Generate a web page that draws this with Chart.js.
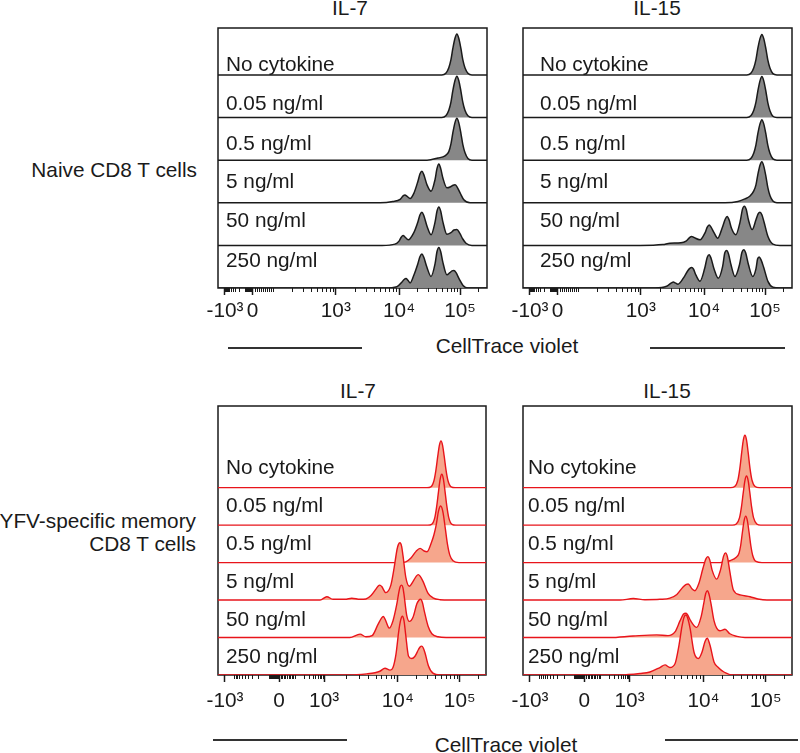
<!DOCTYPE html>
<html lang="en">
<head>
<meta charset="utf-8">
<title>CellTrace violet</title>
<script src="https://cdn.jsdelivr.net/npm/chart.js@4.4.1/dist/chart.umd.min.js"></script>
<style>
  body { margin: 0; background: #fff; }
  #figura { position: relative; width: 800px; height: 753px; overflow: hidden;
    font-family: Arial, "Liberation Sans", sans-serif; color: #1a1a1a; }
  .texto { position: absolute; font-size: 20.8px; line-height: 20px; white-space: nowrap; }
  .centro { transform: translateX(-50%); }
  .direita { text-align: right; }
  .traco { position: absolute; height: 2px; background: #333; }
  .painel { position: absolute; }
</style>
</head>
<body>
<div id="figura">
  <div class="texto centro" style="left:350px; top:-2px">IL-7</div>
  <div class="texto centro" style="left:657px; top:-2px">IL-15</div>
  <div class="texto centro" style="left:358px; top:381px">IL-7</div>
  <div class="texto centro" style="left:667px; top:381px">IL-15</div>

  <div class="texto direita" style="right:603px; top:160px">Naive CD8 T cells</div>
  <div class="texto direita" style="right:604px; top:511px">YFV-specific memory</div>
  <div class="texto direita" style="right:604px; top:534px">CD8 T cells</div>

  <div class="texto centro" style="left:507px; top:336px">CellTrace violet</div>
  <div class="traco" style="left:228px; top:347px; width:134px"></div>
  <div class="traco" style="left:650px; top:347px; width:135px"></div>
  <div class="texto centro" style="left:506px; top:735px">CellTrace violet</div>
  <div class="traco" style="left:213px; top:739px; width:134px"></div>
  <div class="traco" style="left:665px; top:739px; width:133px"></div>

  <div class="painel" id="painel-1" style="left:193px; top:18px; width:319px; height:320px"><canvas></canvas></div>
  <div class="painel" id="painel-2" style="left:498px; top:18px; width:319px; height:320px"><canvas></canvas></div>
  <div class="painel" id="painel-3" style="left:193px; top:396px; width:318px; height:329px"><canvas></canvas></div>
  <div class="painel" id="painel-4" style="left:498px; top:396px; width:319px; height:329px"><canvas></canvas></div>
</div>
<script>
// Linhas de cada painel, de cima para baixo
const rotulosLinha = ["No cytokine", "0.05 ng/ml", "0.5 ng/ml", "5 ng/ml", "50 ng/ml", "250 ng/ml"];

// Eixo x em canal de exibição (0 a 1000, escala biexponencial)
const ticksTopo = [26, 128, 438, 673, 900];
const ticksBase = [26, 228, 396, 671, 902];
const rotulosTicks = ["-10³", "0", "10³", "10⁴", "10⁵"];

// Histogramas: pares [canal, altura] (altura 1 = espaço entre linhas)
const naiveIl7 = [
  [[832, 0], [847, 0.04], [858, 0.17], [866, 0.36], [873, 0.62], [881, 0.86], [888, 0.96], [895, 0.86], [903, 0.62], [910, 0.36], [918, 0.17], [929, 0.04], [944, 0]],
  [[832, 0], [847, 0.04], [858, 0.17], [866, 0.36], [873, 0.63], [881, 0.87], [888, 0.97], [895, 0.87], [903, 0.62], [910, 0.36], [918, 0.17], [929, 0.04], [944, 0]],
  [[777, 0], [818, 0.05], [844, 0.1], [858, 0.2], [866, 0.38], [873, 0.64], [881, 0.88], [888, 0.98], [895, 0.88], [903, 0.63], [910, 0.37], [918, 0.18], [929, 0.04], [944, 0]],
  [[602, 0], [650, 0.03], [677, 0.08], [688, 0.16], [695, 0.18], [703, 0.15], [714, 0.1], [728, 0.22], [743, 0.5], [751, 0.68], [758, 0.74], [765, 0.66], [777, 0.42], [792, 0.27], [807, 0.55], [814, 0.8], [821, 0.91], [828, 0.8], [836, 0.58], [851, 0.35], [866, 0.38], [874, 0.41], [881, 0.42], [888, 0.38], [900, 0.23], [914, 0.07], [937, 0]],
  [[610, 0], [658, 0.03], [673, 0.1], [681, 0.19], [688, 0.23], [696, 0.19], [707, 0.13], [728, 0.3], [743, 0.55], [751, 0.72], [758, 0.78], [765, 0.7], [777, 0.45], [792, 0.25], [807, 0.55], [814, 0.8], [821, 0.9], [828, 0.8], [836, 0.55], [851, 0.26], [866, 0.3], [877, 0.36], [888, 0.37], [899, 0.28], [910, 0.15], [922, 0.05], [944, 0]],
  [[621, 0], [665, 0.03], [684, 0.14], [692, 0.2], [699, 0.22], [706, 0.18], [714, 0.12], [728, 0.3], [743, 0.57], [751, 0.74], [758, 0.8], [765, 0.72], [777, 0.48], [792, 0.27], [807, 0.57], [814, 0.85], [821, 0.95], [828, 0.85], [836, 0.6], [851, 0.31], [862, 0.36], [870, 0.4], [877, 0.41], [885, 0.36], [896, 0.22], [911, 0.06], [929, 0]],
];

const naiveIl15 = [
  [[832, 0], [847, 0.04], [858, 0.17], [866, 0.36], [873, 0.62], [881, 0.85], [888, 0.95], [895, 0.85], [903, 0.61], [910, 0.35], [918, 0.16], [929, 0.03], [944, 0]],
  [[832, 0], [847, 0.04], [858, 0.17], [866, 0.36], [873, 0.62], [881, 0.86], [888, 0.96], [895, 0.86], [903, 0.61], [910, 0.35], [918, 0.16], [929, 0.03], [944, 0]],
  [[832, 0], [847, 0.04], [858, 0.17], [866, 0.36], [873, 0.62], [881, 0.85], [888, 0.95], [895, 0.85], [903, 0.61], [910, 0.35], [918, 0.16], [929, 0.03], [944, 0]],
  [[751, 0], [799, 0.03], [825, 0.09], [844, 0.16], [858, 0.28], [866, 0.42], [873, 0.66], [881, 0.88], [888, 0.96], [895, 0.86], [903, 0.62], [910, 0.36], [918, 0.17], [929, 0.04], [944, 0]],
  [[435, 0], [520, 0.02], [546, 0.05], [587, 0.06], [606, 0.1], [620, 0.19], [627, 0.21], [634, 0.19], [658, 0.13], [677, 0.3], [685, 0.43], [692, 0.48], [699, 0.43], [710, 0.3], [724, 0.17], [740, 0.4], [752, 0.62], [759, 0.68], [766, 0.6], [775, 0.4], [791, 0.25], [807, 0.55], [816, 0.85], [823, 0.92], [830, 0.84], [838, 0.6], [852, 0.37], [866, 0.6], [874, 0.74], [881, 0.78], [888, 0.72], [896, 0.55], [911, 0.2], [929, 0.03], [955, 0]],
  [[491, 0], [534, 0.04], [552, 0.12], [559, 0.14], [566, 0.12], [576, 0.09], [598, 0.25], [612, 0.4], [620, 0.46], [627, 0.48], [634, 0.44], [643, 0.3], [658, 0.16], [675, 0.45], [685, 0.72], [692, 0.78], [699, 0.7], [710, 0.45], [726, 0.23], [742, 0.5], [750, 0.82], [757, 0.88], [764, 0.8], [773, 0.55], [788, 0.27], [805, 0.55], [814, 0.84], [821, 0.9], [828, 0.82], [838, 0.55], [854, 0.27], [866, 0.45], [872, 0.68], [878, 0.73], [885, 0.66], [894, 0.5], [911, 0.15], [929, 0.02], [955, 0]],
];

const memoriaIl7 = [
  [[780, 0], [794, 0.02], [806, 0.19], [813, 0.46], [820, 0.84], [826, 1.13], [832, 1.25], [838, 1.13], [844, 0.84], [851, 0.46], [858, 0.19], [870, 0.02], [885, 0]],
  [[783, 0], [797, 0.02], [809, 0.2], [816, 0.5], [823, 0.91], [829, 1.23], [835, 1.36], [841, 1.23], [847, 0.91], [854, 0.5], [861, 0.2], [873, 0.02], [888, 0]],
  [[679, 0], [701, 0.02], [720, 0.12], [739, 0.3], [754, 0.38], [769, 0.31], [780, 0.29], [797, 0.55], [806, 0.75], [814, 1.0], [823, 1.38], [831, 1.51], [839, 1.36], [848, 0.92], [856, 0.5], [865, 0.2], [877, 0.05], [899, 0]],
  [[381, 0], [406, 0.09], [429, 0.02], [474, 0.02], [499, 0.05], [530, 0.02], [552, 0.03], [571, 0.12], [590, 0.3], [597, 0.37], [604, 0.4], [611, 0.36], [626, 0.2], [645, 0.4], [657, 0.85], [668, 1.35], [673, 1.48], [679, 1.53], [685, 1.44], [690, 1.2], [701, 0.6], [714, 0.37], [728, 0.5], [740, 0.64], [747, 0.68], [754, 0.64], [765, 0.5], [784, 0.18], [802, 0.06], [828, 0.01], [866, 0]],
  [[492, 0], [530, 0.09], [552, 0.02], [575, 0.05], [597, 0.35], [610, 0.52], [617, 0.56], [624, 0.48], [634, 0.3], [639, 0.25], [653, 0.45], [666, 0.85], [676, 1.25], [680, 1.36], [685, 1.4], [690, 1.33], [694, 1.15], [704, 0.6], [714, 0.43], [728, 0.55], [742, 0.9], [749, 0.99], [756, 1.02], [763, 0.93], [770, 0.7], [784, 0.3], [798, 0.1], [821, 0.02], [851, 0]],
  [[492, 0], [555, 0.03], [586, 0.06], [604, 0.1], [623, 0.18], [642, 0.13], [653, 0.2], [664, 0.55], [675, 1.2], [682, 1.48], [688, 1.57], [694, 1.45], [700, 1.1], [711, 0.5], [723, 0.44], [735, 0.5], [748, 0.68], [754, 0.75], [760, 0.77], [766, 0.72], [772, 0.6], [785, 0.25], [802, 0.05], [828, 0]],
];

const memoriaIl15 = [
  [[772, 0], [787, 0.03], [799, 0.21], [806, 0.51], [813, 0.94], [819, 1.27], [825, 1.4], [831, 1.27], [837, 0.94], [844, 0.51], [851, 0.21], [863, 0.03], [878, 0]],
  [[778, 0], [793, 0.03], [805, 0.2], [812, 0.48], [819, 0.88], [825, 1.19], [831, 1.31], [837, 1.19], [843, 0.88], [850, 0.48], [857, 0.2], [869, 0.03], [884, 0]],
  [[732, 0], [769, 0.05], [794, 0.15], [803, 0.25], [809, 0.45], [816, 0.83], [822, 1.12], [828, 1.24], [834, 1.12], [840, 0.83], [847, 0.45], [854, 0.19], [866, 0.03], [888, 0]],
  [[361, 0], [410, 0.04], [453, 0.01], [509, 0.02], [546, 0.05], [572, 0.15], [595, 0.35], [607, 0.42], [614, 0.43], [621, 0.38], [628, 0.3], [639, 0.25], [654, 0.45], [669, 0.85], [680, 1.1], [687, 1.16], [694, 1.08], [703, 0.8], [720, 0.56], [734, 0.8], [746, 1.18], [753, 1.26], [760, 1.15], [768, 0.8], [782, 0.27], [807, 0.14], [844, 0.09], [873, 0.03], [907, 0]],
  [[323, 0], [409, 0.04], [497, 0.07], [539, 0.05], [565, 0.15], [584, 0.45], [596, 0.62], [606, 0.65], [614, 0.58], [623, 0.45], [646, 0.27], [662, 0.55], [673, 0.95], [679, 1.17], [685, 1.25], [691, 1.17], [699, 0.9], [710, 0.45], [720, 0.25], [732, 0.18], [751, 0.22], [769, 0.1], [795, 0.03], [825, 0]],
  [[361, 0], [435, 0.04], [472, 0.08], [509, 0.2], [528, 0.27], [546, 0.2], [565, 0.3], [580, 0.8], [591, 1.3], [599, 1.55], [606, 1.6], [613, 1.5], [621, 1.25], [636, 0.6], [652, 0.44], [665, 0.6], [677, 0.9], [685, 0.98], [695, 0.8], [710, 0.35], [726, 0.2], [747, 0.08], [782, 0]],
];

// Posição vertical dos textos de cada linha (em unidades do eixo y)
const niveisTopo = [5.09, 4.18, 3.24, 2.35, 1.43, 0.49];
const niveisBase = [5.36, 4.34, 3.34, 2.32, 1.31, 0.32];

// Âncoras para os ticks menores
const ancoraTopo = { menos3: 26, menos2: 100, zero: 128, dois: 205, tres: 438, quatro: 673, cinco: 900 };
const ancoraBase = { menos3: 60, menos2: 190, zero: 228, dois: 287, tres: 396, quatro: 671, cinco: 902 };

const cores = {
  cinza: { linha: "#1a1a1a", fundo: "#878787", largura: 1.5 },
  vermelho: { linha: "#e8141b", fundo: "#f6a68c", largura: 1.4 },
};

const fonte = 'Arial, "Liberation Sans", sans-serif';

function ticksMenores(a) {
  const lista = [];
  const decada = (de, ate) => {
    for (let k = 2; k < 10; k++) lista.push(de + Math.log10(k) * (ate - de));
  };
  decada(a.dois, a.tres);
  decada(a.tres, a.quatro);
  decada(a.quatro, a.cinco);
  decada(a.cinco, a.cinco + (a.cinco - a.quatro));
  for (let k = 2; k < 10; k++) lista.push(a.menos2 - Math.log10(k) * (a.menos2 - a.menos3));
  for (let k = 1; k < 10; k++) {
    lista.push(a.zero + (k / 10) * (a.dois - a.zero));
    lista.push(a.zero - (k / 10) * (a.zero - a.menos2));
  }
  lista.push(a.dois, a.menos2, a.menos3);
  return lista.filter((v) => v > 0 && v < 1000);
}

const painelPlugin = {
  id: "painel",
  beforeDatasetsDraw(chart, args, opts) {
    const { ctx, chartArea: { left, top, width, height, bottom } } = chart;
    const escalaX = chart.scales.x;
    ctx.save();
    ctx.strokeStyle = "#1a1a1a";
    ctx.lineWidth = 1.5;
    ctx.strokeRect(left, top, width, height);
    // ticks menores
    ctx.lineWidth = 1;
    opts.menores.forEach((v) => {
      const px = Math.round(escalaX.getPixelForValue(v)) + 0.5;
      ctx.beginPath();
      ctx.moveTo(px, bottom);
      ctx.lineTo(px, bottom + 4);
      ctx.stroke();
    });
    ctx.restore();
  },
  afterDatasetsDraw(chart, args, opts) {
    const { ctx, chartArea: { left } } = chart;
    const escalaY = chart.scales.y;
    ctx.save();
    ctx.font = "20.8px " + fonte;
    ctx.fillStyle = "#1a1a1a";
    ctx.textAlign = "left";
    ctx.textBaseline = "alphabetic";
    rotulosLinha.forEach((txt, i) => {
      ctx.fillText(txt, left + opts.recuo, escalaY.getPixelForValue(opts.niveis[i]));
    });
    ctx.restore();
  },
};

function montarPainel(id, curvas, cfg) {
  const divBloco = document.getElementById(id);
  if (!divBloco) return;
  const cor = cores[cfg.cor];

  const datasets = curvas.map((curva, i) => {
    const base = curvas.length - 1 - i;
    const pontos = [[0, 0], ...curva, [1000, 0]].map(([x, h]) => ({ x, y: base + h }));
    return {
      data: pontos,
      borderColor: cor.linha,
      backgroundColor: cor.fundo,
      borderWidth: cor.largura,
      fill: { value: base },
      pointRadius: 0,
      cubicInterpolationMode: "monotone",
      order: base, // linha de baixo desenhada por cima
    };
  });

  new Chart(divBloco.querySelector("canvas").getContext("2d"), {
    type: "line",
    plugins: [painelPlugin],
    data: { datasets },
    options: {
      responsive: true,
      maintainAspectRatio: false,
      animation: false,
      layout: { padding: { left: 25, right: 25, top: 10, bottom: 0 } },
      scales: {
        x: {
          type: "linear",
          min: 0,
          max: 1000,
          afterBuildTicks: (escala) => {
            escala.ticks = cfg.ticks.map((v) => ({ value: v }));
          },
          afterFit: (escala) => {
            escala.height = 50;
          },
          grid: {
            drawOnChartArea: false,
            drawTicks: true,
            tickLength: 7,
            tickWidth: 1.5,
            tickColor: "#1a1a1a",
          },
          border: { display: false },
          ticks: {
            autoSkip: false,
            maxRotation: 0,
            minRotation: 0,
            padding: cfg.padTick,
            color: "#1a1a1a",
            font: { family: fonte, size: 20.8 },
            callback: (v, i) => rotulosTicks[i],
          },
        },
        y: { display: false, min: 0, max: cfg.yMax },
      },
      plugins: {
        legend: { display: false },
        tooltip: { enabled: false },
        painel: { menores: cfg.menores, niveis: cfg.niveis, recuo: cfg.recuo },
      },
    },
  });
}

montarPainel("painel-1", naiveIl7, { cor: "cinza", yMax: 6.1, ticks: ticksTopo, menores: ticksMenores(ancoraTopo), niveis: niveisTopo, recuo: 8, padTick: 4 });
montarPainel("painel-2", naiveIl15, { cor: "cinza", yMax: 6.1, ticks: ticksTopo, menores: ticksMenores(ancoraTopo), niveis: niveisTopo, recuo: 17, padTick: 4 });
montarPainel("painel-3", memoriaIl7, { cor: "vermelho", yMax: 7.18, ticks: ticksBase, menores: ticksMenores(ancoraBase), niveis: niveisBase, recuo: 8, padTick: 7 });
montarPainel("painel-4", memoriaIl15, { cor: "vermelho", yMax: 7.18, ticks: ticksBase, menores: ticksMenores(ancoraBase), niveis: niveisBase, recuo: 5, padTick: 7 });
</script>
</body>
</html>
